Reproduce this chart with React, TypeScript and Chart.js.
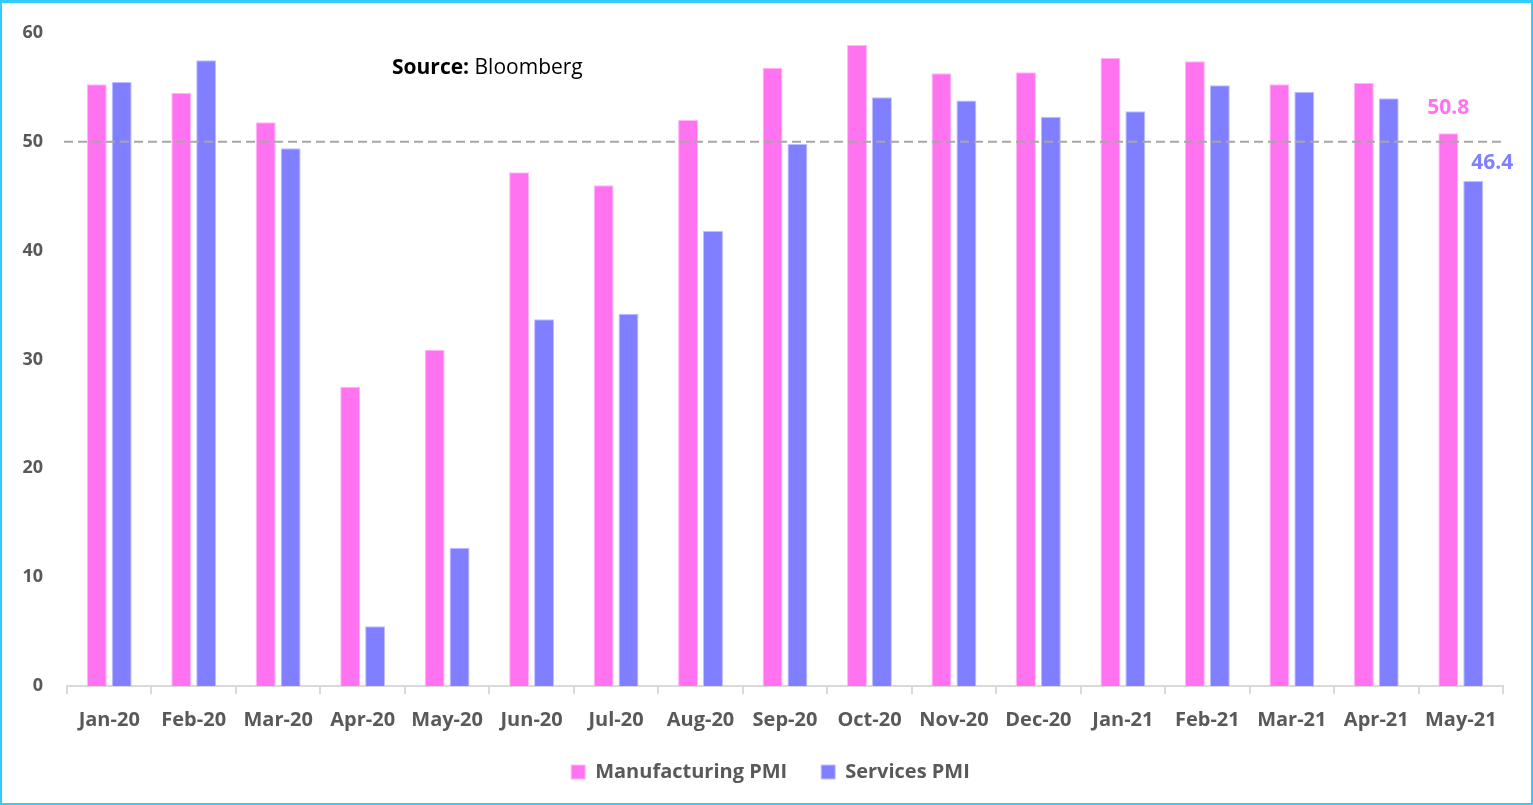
import React, { useEffect, useRef } from "react";
import { Chart, registerables } from "chart.js";

Chart.register(...registerables);

const categories = ["Jan-20", "Feb-20", "Mar-20", "Apr-20", "May-20", "Jun-20", "Jul-20", "Aug-20", "Sep-20", "Oct-20", "Nov-20", "Dec-20", "Jan-21", "Feb-21", "Mar-21", "Apr-21", "May-21"];
const manufacturingPMI = [55.3, 54.5, 51.8, 27.5, 30.9, 47.2, 46.0, 52.0, 56.8, 58.9, 56.3, 56.4, 57.7, 57.4, 55.3, 55.4, 50.8];
const servicesPMI = [55.5, 57.5, 49.4, 5.5, 12.7, 33.7, 34.2, 41.8, 49.8, 54.1, 53.8, 52.3, 52.8, 55.2, 54.6, 54.0, 46.4];
const thresholdValue = 50;
const yTicks = [0, 10, 20, 30, 40, 50, 60];

const PINK = "#FF73F0";
const BLUE = "#7F7FFF";
const TEXT = "#595959";
const FONT = "'Open Sans', Lato, sans-serif";

export default function App() {
  const ref = useRef<HTMLCanvasElement | null>(null);

  useEffect(() => {
    document.body.style.margin = "0";
    const canvas = ref.current;
    if (!canvas) return;

    const legendShift = {
      id: "legendShift",
      afterLayout(chart: any) {
        const lg = chart.legend;
        if (!lg) return;
        lg.left += 18;
        lg.right += 18;
        lg.top -= 18;
        lg.bottom -= 18;
      },
    };

    const overlay = {
      id: "overlay",
      afterDatasetsDraw(chart: any) {
        const { ctx, chartArea, scales } = chart;
        const y = scales.y.getPixelForValue(thresholdValue);
        ctx.save();
        ctx.strokeStyle = "#A6A6A6";
        ctx.lineWidth = 2;
        ctx.setLineDash([9, 5]);
        ctx.beginPath();
        ctx.moveTo(chartArea.left - 3, y);
        ctx.lineTo(chartArea.right, y);
        ctx.stroke();
        ctx.setLineDash([]);

        // last-point labels
        const last = categories.length - 1;
        const m = chart.getDatasetMeta(0).data[last];
        const s = chart.getDatasetMeta(1).data[last];
        ctx.font = `bold 21px ${FONT}`;
        ctx.textAlign = "center";
        ctx.textBaseline = "middle";
        ctx.fillStyle = PINK;
        ctx.fillText(String(manufacturingPMI[last]), m.x, m.y - 25);
        ctx.fillStyle = BLUE;
        ctx.fillText(String(servicesPMI[last]), s.x + 19, s.y - 18);

        // source
        ctx.textAlign = "left";
        ctx.fillStyle = "#000000";
        ctx.font = `bold 21px ${FONT}`;
        const sx = 390;
        const sy = 65;
        ctx.fillText("Source:", sx, sy);
        const w = ctx.measureText("Source: ").width;
        ctx.font = `21px ${FONT}`;
        ctx.fillText("Bloomberg", sx + w, sy);
        ctx.restore();
      },
    };

    const chart = new Chart(canvas, {
      type: "bar",
      data: {
        labels: categories,
        datasets: [
          {
            label: "Manufacturing PMI",
            data: manufacturingPMI,
            backgroundColor: PINK,
            borderColor: "#FFB8F7",
            borderWidth: 1,
            categoryPercentage: 0.59,
            barPercentage: 0.8,
          },
          {
            label: "Services PMI",
            data: servicesPMI,
            backgroundColor: BLUE,
            borderColor: "#BFBFFF",
            borderWidth: 1,
            categoryPercentage: 0.59,
            barPercentage: 0.8,
          },
        ],
      },
      options: {
        animation: false,
        responsive: false,
        maintainAspectRatio: false,
        layout: { padding: { top: 30, right: 28, left: 0, bottom: 1 } },
        plugins: {
          tooltip: { enabled: false },
          legend: {
            position: "bottom",
            labels: {
              boxWidth: 14,
              boxHeight: 14,
              padding: 34,
              color: TEXT,
              font: { family: FONT, size: 20, weight: "bold" },
            },
          },
        },
        scales: {
          x: {
            grid: {
              display: true,
              drawOnChartArea: false,
              offset: true,
              color: "#D9D9D9",
              tickLength: 8,
              lineWidth: 2,
            },
            border: { display: true, color: "#D9D9D9", width: 2 },
            ticks: {
              color: TEXT,
              padding: 14,
              maxRotation: 0,
              autoSkip: false,
              font: { family: FONT, size: 20, weight: "bold" },
            },
          },
          y: {
            min: 0,
            max: 60,
            afterBuildTicks(scale: any) {
              scale.ticks = yTicks.map((v) => ({ value: v }));
            },
            afterFit(scale: any) {
              scale.width = 65;
            },
            grid: { display: false },
            border: { display: false },
            ticks: {
              color: TEXT,
              padding: 16,
              font: { family: FONT, size: 18, weight: "bold" },
            },
          },
        },
      },
      plugins: [overlay, legendShift],
    });

    return () => chart.destroy();
  }, []);

  return (
    <div
      style={{
        width: 1533,
        height: 805,
        boxSizing: "border-box",
        borderTop: "3px solid #33CCFF",
        borderLeft: "2px solid #33CCFF",
        borderRight: "2px solid #33CCFF",
        borderBottom: "2px solid #33CCFF",
        background: "#FFFFFF",
        overflow: "hidden",
        position: "relative",
      }}
    >
      <canvas ref={ref} width={1529} height={808} style={{ display: "block" }} />
    </div>
  );
}
